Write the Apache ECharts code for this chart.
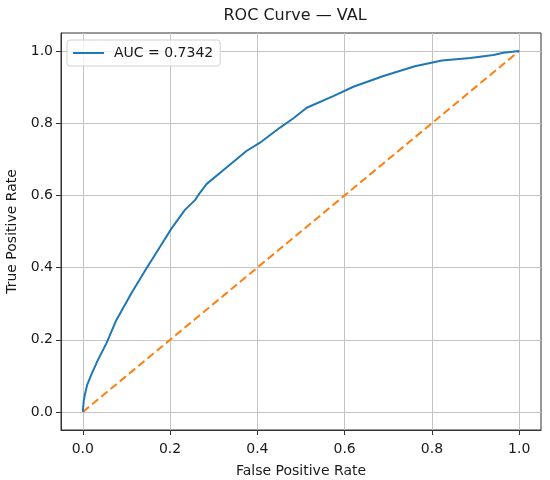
<!DOCTYPE html>
<html>
<head>
<meta charset="utf-8">
<style>
  html, body { margin: 0; padding: 0; background: #fff; }
  #roc { width: 550px; height: 480px; }
</style>
<script src="https://cdn.jsdelivr.net/npm/echarts@6/dist/echarts.min.js"></script>
</head>
<body>
<div id="roc"></div>
<script>
    // ROC curve points
    var fpr = [0, 0.002, 0.005, 0.01, 0.02, 0.035, 0.054, 0.077, 0.112, 0.146, 0.177, 0.203, 0.234, 0.257, 0.27, 0.284,
               0.33, 0.375, 0.406, 0.452, 0.482, 0.513, 0.574, 0.62, 0.689, 0.761, 0.823, 0.888, 0.941, 0.964, 1];
    var tpr = [0, 0.03, 0.05, 0.075, 0.105, 0.145, 0.19, 0.255, 0.33, 0.398, 0.458, 0.508, 0.56, 0.587, 0.61, 0.632,
               0.678, 0.723, 0.746, 0.788, 0.813, 0.843, 0.875, 0.901, 0.931, 0.958, 0.974, 0.981, 0.989, 0.995, 1];
    var chanceX = [0, 1];
    var chanceY = [0, 1];
    var tickValues = [0, 0.2, 0.4, 0.6, 0.8, 1.0];
    var legendName = 'AUC = 0.7342';

    var rocData = fpr.map(function (x, i) { return [x, tpr[i]]; });
    var chanceData = chanceX.map(function (x, i) { return [x, chanceY[i]]; });

    var font = 'DejaVu Sans';
    var fmt = function (v) { return v.toFixed(1); };
    var ink = '#1a1a1a';

    function axisOpt(name, gap, labelMargin) {
        return {
            type: 'value',
            min: -0.05, max: 1.05,
            name: name,
            nameLocation: 'middle',
            nameGap: gap,
            nameTextStyle: { fontFamily: font, fontSize: 14, color: ink },
            axisLine: { show: true, onZero: false, lineStyle: { color: '#333', width: 1 } },
            axisTick: { show: true, inside: false, length: 5, customValues: tickValues, lineStyle: { color: '#333' } },
            axisLabel: { customValues: tickValues, formatter: fmt, margin: labelMargin, fontSize: 14, color: ink },
            splitLine: { show: true, customValues: tickValues, lineStyle: { color: '#c4c4c4', width: 1 } }
        };
    }

    var chart = echarts.init(document.getElementById('roc'));
    chart.setOption({
        animation: false,
        textStyle: { fontFamily: font },
        title: {
            text: 'ROC Curve — VAL',
            left: 290,
            textAlign: 'center',
            top: 3,
            textStyle: { fontFamily: font, fontSize: 16, fontWeight: 'normal', color: ink }
        },
        grid: {
            left: 61, right: 9, top: 33, bottom: 50,
            show: true,
            borderColor: '#333',
            borderWidth: 1,
            outerBoundsMode: 'none'
        },
        legend: {
            data: [{ name: legendName, icon: 'path://M0,0H31V2H0Z' }],
            left: 67, top: 40,
            padding: [6, 7, 6, 6],
            itemWidth: 31,
            itemHeight: 14,
            borderColor: '#d0d0d0',
            borderWidth: 1,
            borderRadius: 3,
            backgroundColor: 'rgba(255,255,255,0.8)',
            textStyle: { fontFamily: font, fontSize: 14, color: ink, padding: [0, 0, 0, 5] }
        },
        xAxis: axisOpt('False Positive Rate', 34, 12),
        yAxis: axisOpt('True Positive Rate', 39, 8),
        series: [
            {
                name: legendName,
                type: 'line',
                symbol: 'none',
                data: rocData,
                lineStyle: { color: '#1f77b4', width: 2 },
                itemStyle: { color: '#1f77b4' },
                z: 3
            },
            {
                name: 'chance',
                type: 'line',
                symbol: 'none',
                data: chanceData,
                lineStyle: { color: '#ff7f0e', width: 2, type: [8, 4] },
                itemStyle: { color: '#ff7f0e' },
                z: 2
            }
        ]
    });
</script>
</body>
</html>
